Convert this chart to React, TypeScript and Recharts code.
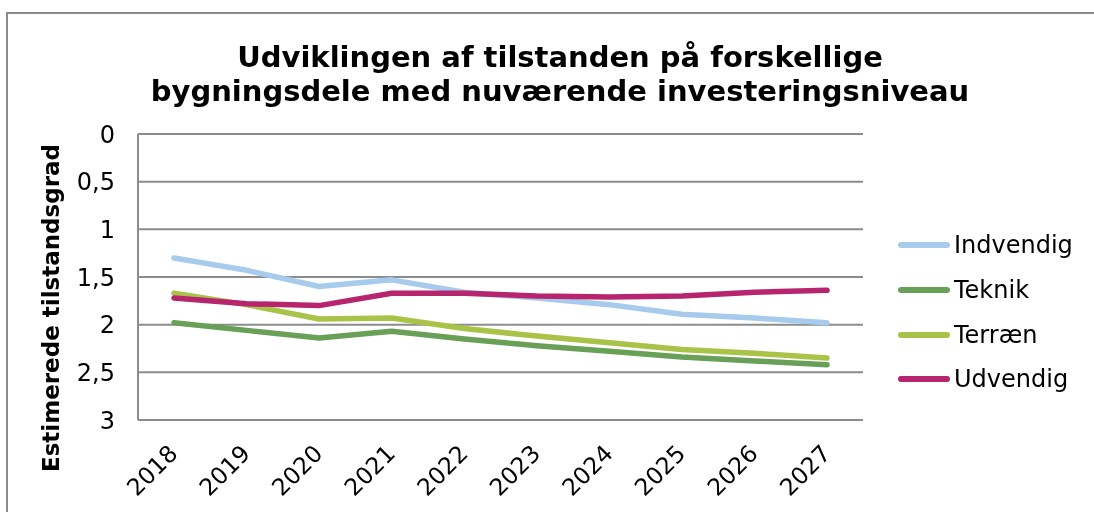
import React from 'react';
import { LineChart, Line, XAxis, YAxis, CartesianGrid } from 'recharts';

const years = ['2018', '2019', '2020', '2021', '2022', '2023', '2024', '2025', '2026', '2027'];
const indvendig = [1.30, 1.43, 1.60, 1.53, 1.66, 1.72, 1.79, 1.89, 1.93, 1.98];
const teknik = [1.98, 2.06, 2.14, 2.07, 2.15, 2.22, 2.28, 2.34, 2.38, 2.42];
const terraen = [1.67, 1.79, 1.94, 1.93, 2.04, 2.12, 2.19, 2.26, 2.30, 2.35];
const udvendig = [1.72, 1.78, 1.80, 1.67, 1.67, 1.70, 1.71, 1.70, 1.66, 1.64];
const yTicks = [0, 0.5, 1, 1.5, 2, 2.5, 3];

const seriesNames = ['Indvendig', 'Teknik', 'Terræn', 'Udvendig'];
const seriesColors = ['#A7CBEC', '#67A056', '#A9C248', '#B8256F'];
const seriesValues = [indvendig, teknik, terraen, udvendig];

const data = years.map((year, i) => {
  const row: Record<string, string | number> = { year };
  seriesNames.forEach((n, s) => {
    row[n] = seriesValues[s][i];
  });
  return row;
});

const FONT = '"DejaVu Sans", Verdana, sans-serif';
const GRID = '#8c8c8c';

if (typeof document !== 'undefined') {
  document.body.style.overflow = 'hidden';
}

const XTick = (props: any) => {
  const { x, y, payload } = props;
  const ax = x + 5;
  const ay = y + 27;
  return (
    <text
      x={ax}
      y={ay}
      transform={`rotate(-45 ${ax} ${ay})`}
      textAnchor="end"
      fontSize={23.5}
      fontFamily={FONT}
      fill="#000"
    >
      {payload.value}
    </text>
  );
};

const YLabel = (props: any) => {
  const vb = props.viewBox || { x: 0, y: 126, width: 130, height: 286 };
  const cx = vb.x + 51;
  const cy = vb.y + vb.height / 2 + 31;
  return (
    <text
      x={cx}
      y={cy}
      transform={`rotate(-90 ${cx} ${cy})`}
      textAnchor="middle"
      fontSize={23}
      fontWeight="bold"
      fontFamily={FONT}
      fill="#000"
    >
      Estimerede tilstandsgrad
    </text>
  );
};

const LegendBox = () => (
  <div style={{ position: 'absolute', left: 890, top: 215, width: 190, fontFamily: FONT }}>
    {seriesNames.map((n, s) => (
      <div key={n} style={{ display: 'flex', alignItems: 'center', height: 44.7 }}>
        <div
          style={{
            width: 52,
            height: 6,
            borderRadius: 3,
            background: seriesColors[s],
            marginRight: 4,
          }}
        />
        <span style={{ fontSize: 24, color: '#000', lineHeight: '28px' }}>{n}</span>
      </div>
    ))}
  </div>
);

export default function App() {
  return (
    <div style={{ position: 'relative', width: 1086, height: 504, fontFamily: FONT }}>
      <svg
        width={1094}
        height={512}
        style={{ position: 'fixed', left: 0, top: 0, pointerEvents: 'none' }}
      >
        <line x1={6} y1={13} x2={1094} y2={13} stroke={GRID} strokeWidth={2} />
        <line x1={7} y1={12} x2={7} y2={512} stroke={GRID} strokeWidth={2} />
      </svg>
      <div style={{ position: 'absolute', left: 0, top: 0 }}>
        <LineChart
          width={1086}
          height={504}
          data={data}
          margin={{ top: 126, right: 231, left: 0, bottom: 0 }}
        >
          <CartesianGrid vertical={false} stroke={GRID} strokeWidth={2} />
          <XAxis
            dataKey="year"
            height={92}
            interval={0}
            padding={{ left: 36, right: 36 }}
            axisLine={{ stroke: GRID, strokeWidth: 2 }}
            tickLine={false}
            tick={<XTick />}
          />
          <YAxis
            reversed
            domain={[0, 3]}
            ticks={yTicks}
            width={130}
            interval={0}
            axisLine={{ stroke: GRID, strokeWidth: 2 }}
            tickLine={false}
            tickMargin={17}
            tick={{ fontSize: 24, fill: '#000', fontFamily: FONT }}
            tickFormatter={(v: number) => String(v).replace('.', ',')}
            label={{ content: <YLabel /> } as any}
          />
          {seriesNames.map((n, s) => (
            <Line
              key={n}
              type="linear"
              dataKey={n}
              name={n}
              stroke={seriesColors[s]}
              strokeWidth={5.5}
              strokeLinecap="round"
              strokeLinejoin="round"
              dot={false}
              activeDot={false}
              isAnimationActive={false}
            />
          ))}
        </LineChart>
      </div>
      <LegendBox />
      <div
        style={{
          position: 'absolute',
          left: 52,
          top: 32,
          width: 1000,
          textAlign: 'center',
          fontSize: 29,
          lineHeight: '34px',
          fontWeight: 'bold',
          color: '#000',
          fontFamily: FONT,
          whiteSpace: 'nowrap',
        }}
      >
        Udviklingen af tilstanden på forskellige
        <br />
        bygningsdele med nuværende investeringsniveau
      </div>
    </div>
  );
}
